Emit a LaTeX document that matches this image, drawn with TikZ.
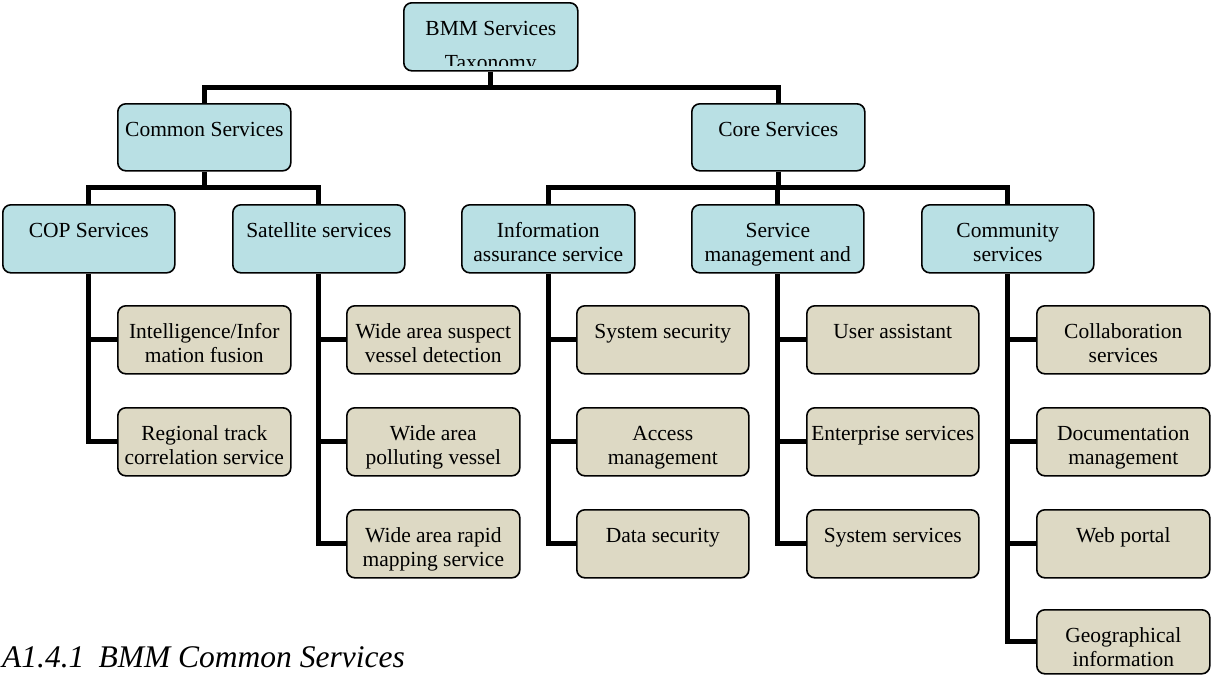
\documentclass[tikz,border=0pt]{standalone}
\usepackage{fontspec}
\setmainfont{Liberation Serif}
\definecolor{hdrblue}{RGB}{185,224,228}
\definecolor{leaftan}{RGB}{221,217,196}
% text block for a box: fixed height, first baseline 33pt below the top
\newcommand\bxt[3][68pt]{\parbox[t][#1][t]{#2}{\centering\rule{0pt}{33pt}#3}}
\tikzset{
  boxbase/.style={draw=black, line width=1.6pt, rounded corners=8pt, inner sep=0pt,
                  anchor=north west, font=\fontsize{21.5}{24}\selectfont},
  hdr/.style={boxbase, fill=hdrblue},
  leaf/.style={boxbase, fill=leaftan},
  conn/.style={draw=black, line width=5pt},
}
\begin{document}
\begin{tikzpicture}[x=1pt,y=-1pt]
\useasboundingbox (0,0) rectangle (1212,675);

% root box; its second line is cut off by the text area
\node[hdr, minimum width=174pt, minimum height=68pt] (root) at (403,2) {};
\begin{scope}
  \clip (403,4) rectangle (577,65);
  \node[anchor=base, inner sep=0pt, font=\fontsize{21.5}{24}\selectfont] (roott1) at (root.north |- 0,35) {BMM Services};
  \node[anchor=base, inner sep=0pt, font=\fontsize{21.5}{24}\selectfont] (roott2) at (root.north |- 0,69) {Taxonomy};
\end{scope}

% first level
\node[hdr] (common) at (117,103) {\bxt[67pt]{173pt}{Common Services}};
\node[hdr] (core)   at (691,103) {\bxt[67pt]{173pt}{Core Services}};

% second level
\node[hdr] (cop) at (2,204)   {\bxt{172pt}{COP Services}};
\node[hdr] (sat) at (232,204) {\bxt{172pt}{Satellite services}};
\node[hdr] (ia)  at (461,204) {\bxt{173pt}{Information\\assurance service}};
\node[hdr] (sm)  at (691,204) {\bxt{172pt}{Service\\management and}};
\node[hdr] (com) at (921,204) {\bxt{172pt}{Community\\services}};

% leaves
\node[leaf] (cop1) at (117,305) {\bxt{173pt}{Intelligence/Infor\\mation fusion}};
\node[leaf] (cop2) at (117,407) {\bxt{173pt}{Regional track\\correlation service}};

\node[leaf] (sat1) at (346,305) {\bxt{173pt}{Wide area suspect\\vessel detection}};
\node[leaf] (sat2) at (346,407) {\bxt{173pt}{Wide area\\polluting vessel}};
\node[leaf] (sat3) at (346,509) {\bxt{173pt}{Wide area rapid\\mapping service}};

\node[leaf] (ia1) at (576,305) {\bxt{172pt}{System security}};
\node[leaf] (ia2) at (576,407) {\bxt{172pt}{Access\\management}};
\node[leaf] (ia3) at (576,509) {\bxt{172pt}{Data security}};

\node[leaf] (sm1) at (806,305) {\bxt{172pt}{User assistant}};
\node[leaf] (sm2) at (806,407) {\bxt{172pt}{Enterprise services}};
\node[leaf] (sm3) at (806,509) {\bxt{172pt}{System services}};

\node[leaf] (com1) at (1036,305) {\bxt{173pt}{Collaboration\\services}};
\node[leaf] (com2) at (1036,407) {\bxt{173pt}{Documentation\\management}};
\node[leaf] (com3) at (1036,509) {\bxt{173pt}{Web portal}};
\node[leaf] (com4) at (1036,609) {\bxt[64pt]{173pt}{Geographical\\information}};

% bus lines
\coordinate (bus0) at (490,87);
\coordinate (bus1) at (0,187);

\path[conn] (root.south) -- (root.south |- bus0);
\path[conn] (common.north) -- (common.north |- bus0) -- (core.north |- bus0) -- (core.north);

\path[conn] (common.south) -- (common.south |- bus1);
\path[conn] (cop.north) -- (cop.north |- bus1) -- (sat.north |- bus1) -- (sat.north);

\path[conn] (core.south) -- (core.south |- bus1);
\path[conn] (ia.north) -- (ia.north |- bus1) -- (com.north |- bus1) -- (com.north);
\path[conn] (sm.north) -- (sm.north |- bus1);

% spines to the leaves
\path[conn] (cop.south) |- (cop2.west);
\path[conn] (cop.south |- cop1.west) -- (cop1.west);

\path[conn] (sat.south) |- (sat3.west);
\foreach \n in {sat1,sat2} \path[conn] (sat.south |- \n.west) -- (\n.west);

\path[conn] (ia.south) |- (ia3.west);
\foreach \n in {ia1,ia2} \path[conn] (ia.south |- \n.west) -- (\n.west);

\path[conn] (sm.south) |- (sm3.west);
\foreach \n in {sm1,sm2} \path[conn] (sm.south |- \n.west) -- (\n.west);

\path[conn] (com.south) |- (com4.west);
\foreach \n in {com1,com2,com3} \path[conn] (com.south |- \n.west) -- (\n.west);

% section heading
\node[anchor=base west, inner sep=0pt, font=\fontsize{31.5}{36}\selectfont\itshape] (caption) at (2,667) {A1.4.1\hspace{0.45em}BMM Common Services};
\end{tikzpicture}
\end{document}
